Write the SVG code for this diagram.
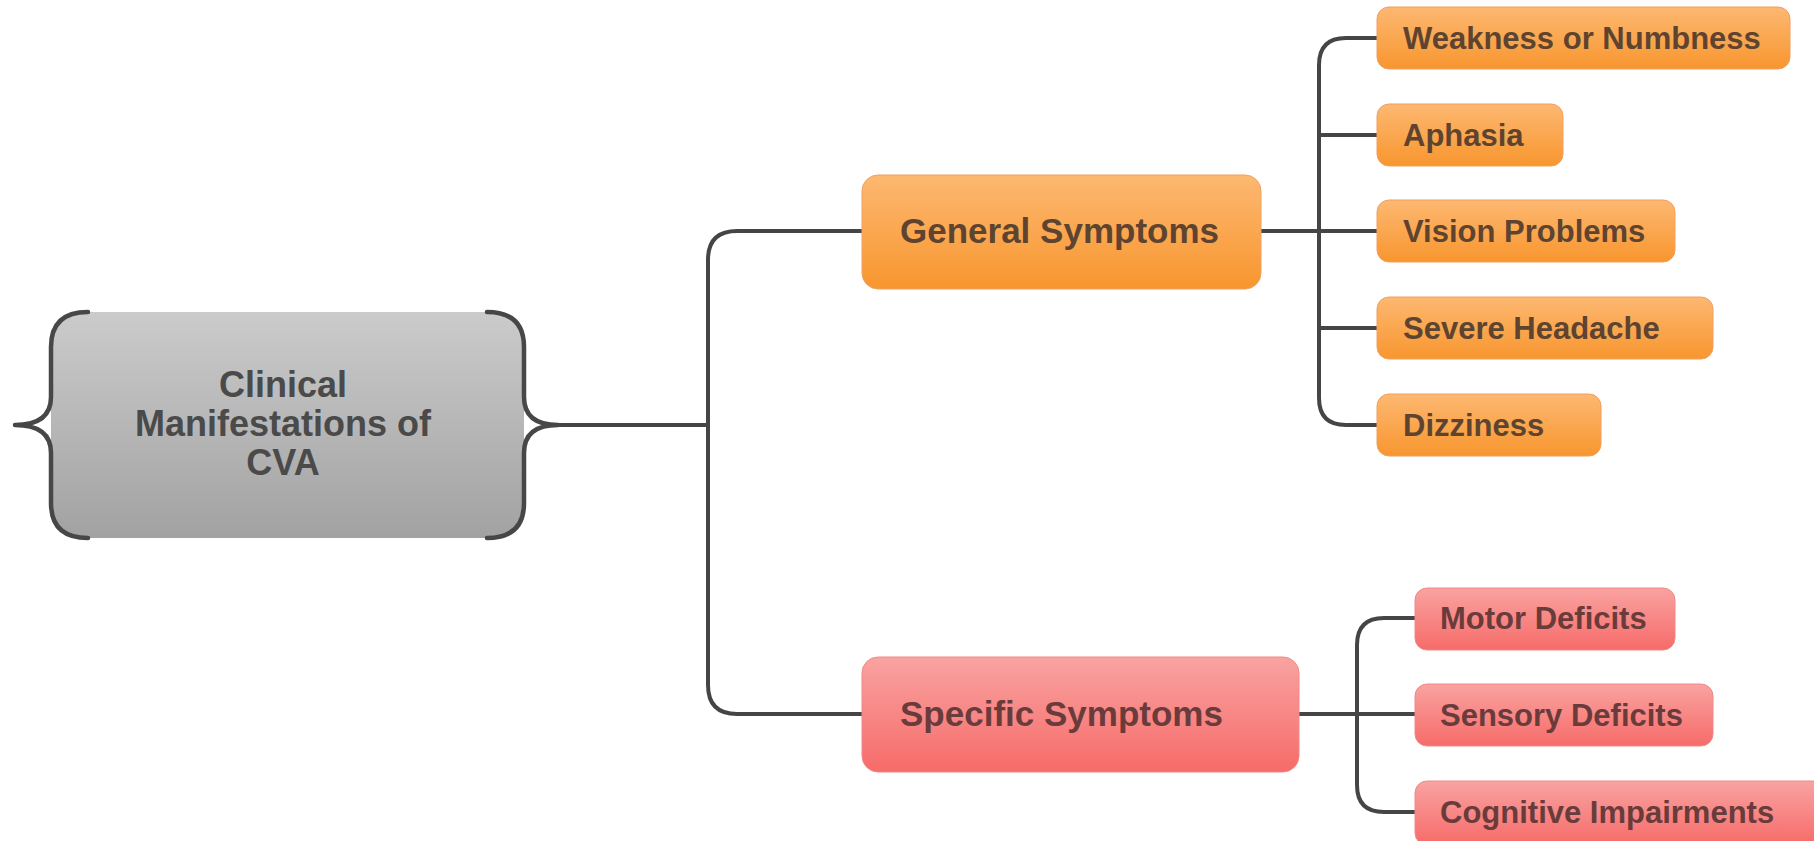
<svg xmlns="http://www.w3.org/2000/svg" width="1814" height="841" viewBox="0 0 1814 841">
  <defs>
    <linearGradient id="gGray" x1="0" y1="0" x2="0" y2="1">
      <stop offset="0" stop-color="#cbcbcb"/>
      <stop offset="1" stop-color="#a2a2a2"/>
    </linearGradient>
    <linearGradient id="gOrange" x1="0" y1="0" x2="0" y2="1">
      <stop offset="0" stop-color="#fdb871"/>
      <stop offset="1" stop-color="#f8962f"/>
    </linearGradient>
    <linearGradient id="gPink" x1="0" y1="0" x2="0" y2="1">
      <stop offset="0" stop-color="#f9a3a1"/>
      <stop offset="1" stop-color="#f66b69"/>
    </linearGradient>
    <style>
      .link { fill: none; stroke: #454545; stroke-width: 4; stroke-linecap: round; }
      .brace { fill: none; stroke: #474747; stroke-width: 4.5; stroke-linecap: round; stroke-linejoin: round; }
      .orange { fill: url(#gOrange); stroke: #f0a060; stroke-width: 1; }
      .pink { fill: url(#gPink); stroke: #ee8a88; stroke-width: 1; }
      text { font-family: "Liberation Sans", Arial, sans-serif; font-weight: bold; }
      .root-t { fill: #4a4a4a; font-size: 36px; text-anchor: middle; }
      .mid-o { fill: #5e4430; font-size: 35px; }
      .mid-p { fill: #6a3b3b; font-size: 35px; }
      .leaf-o { fill: #5e4430; font-size: 31px; }
      .leaf-p { fill: #6a3b3b; font-size: 31px; }
    </style>
  </defs>

  <!-- connectors -->
  <g id="connectors">
    <path class="link" d="M 556 425 H 708"/>
    <path class="link" d="M 862 231 H 737 Q 708 231 708 260 V 685 Q 708 714 737 714 H 862"/>

    <path class="link" d="M 1261 231 H 1377"/>
    <path class="link" d="M 1377 38 H 1346 Q 1319 38 1319 65 V 398 Q 1319 425 1346 425 H 1377"/>
    <path class="link" d="M 1319 135 H 1377"/>
    <path class="link" d="M 1319 328 H 1377"/>

    <path class="link" d="M 1299 714 H 1415"/>
    <path class="link" d="M 1415 618 H 1384 Q 1357 618 1357 645 V 785 Q 1357 812 1384 812 H 1415"/>
  </g>

  <!-- root -->
  <g id="root">
    <rect x="51" y="312" width="473" height="226" rx="34" fill="url(#gGray)"/>
    <path class="brace" d="M 88 312 Q 51 312 51 347 L 51 397 Q 51 425 15 425 Q 51 425 51 453 L 51 503 Q 51 538 88 538"/>
    <path class="brace" d="M 487 312 Q 524 312 524 347 L 524 397 Q 524 425 558 425 Q 524 425 524 453 L 524 503 Q 524 538 487 538"/>
    <text class="root-t" x="283" y="397">Clinical</text>
    <text class="root-t" x="283" y="436">Manifestations of</text>
    <text class="root-t" x="283" y="475">CVA</text>
  </g>

  <!-- second level -->
  <g id="general">
    <rect class="orange" x="862" y="175" width="399" height="114" rx="16"/>
    <text class="mid-o" x="900" y="243">General Symptoms</text>
  </g>
  <g id="specific">
    <rect class="pink" x="862" y="657" width="437" height="115" rx="16"/>
    <text class="mid-p" x="900" y="726">Specific Symptoms</text>
  </g>

  <!-- general symptoms leaves -->
  <g id="weakness">
    <rect class="orange" x="1377" y="7" width="413" height="62" rx="12"/>
    <text class="leaf-o" x="1403" y="49">Weakness or Numbness</text>
  </g>
  <g id="aphasia">
    <rect class="orange" x="1377" y="104" width="186" height="62" rx="12"/>
    <text class="leaf-o" x="1403" y="146">Aphasia</text>
  </g>
  <g id="vision">
    <rect class="orange" x="1377" y="200" width="298" height="62" rx="12"/>
    <text class="leaf-o" x="1403" y="242">Vision Problems</text>
  </g>
  <g id="headache">
    <rect class="orange" x="1377" y="297" width="336" height="62" rx="12"/>
    <text class="leaf-o" x="1403" y="339">Severe Headache</text>
  </g>
  <g id="dizziness">
    <rect class="orange" x="1377" y="394" width="224" height="62" rx="12"/>
    <text class="leaf-o" x="1403" y="436">Dizziness</text>
  </g>

  <!-- specific symptoms leaves -->
  <g id="motor">
    <rect class="pink" x="1415" y="588" width="260" height="62" rx="12"/>
    <text class="leaf-p" x="1440" y="629">Motor Deficits</text>
  </g>
  <g id="sensory">
    <rect class="pink" x="1415" y="684" width="298" height="62" rx="12"/>
    <text class="leaf-p" x="1440" y="726">Sensory Deficits</text>
  </g>
  <g id="cognitive">
    <rect class="pink" x="1415" y="781" width="410" height="64" rx="12"/>
    <text class="leaf-p" x="1440" y="823">Cognitive Impairments</text>
  </g>
</svg>
